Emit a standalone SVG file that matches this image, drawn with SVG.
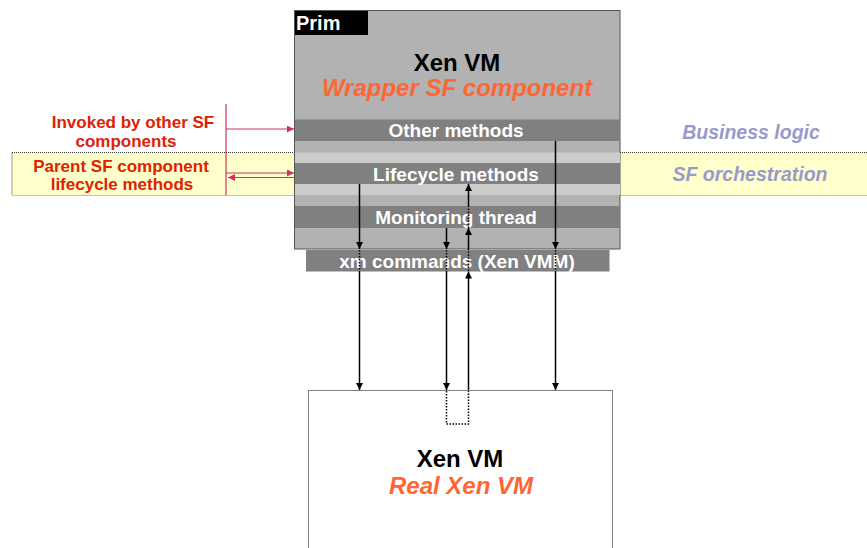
<svg xmlns="http://www.w3.org/2000/svg" width="867" height="548" viewBox="0 0 867 548">
<defs>
<style>
.t{font-family:"Liberation Sans",Arial,sans-serif;font-weight:bold;text-anchor:middle}
.bar{fill:#808080}
.bw{fill:#ffffff;font-size:19px}
.red{fill:#dd2200;font-size:17px}
.orange{fill:#ff6633;font-style:italic;font-size:24px}
.big{fill:#000;font-size:24px}
.lav{fill:#9999cc;font-style:italic;font-size:19.5px}
.k{stroke:#000;stroke-width:1.5;fill:none}
.kd{stroke:#000;stroke-width:1.5;fill:none;stroke-dasharray:1.5 1.5}
.p{stroke:#cc3366;stroke-width:1.2;fill:none}
</style>
<marker id="ak" viewBox="0 0 10 10" refX="10" refY="5" markerWidth="7" markerHeight="7" markerUnits="userSpaceOnUse" orient="auto"><path d="M0,0L10,5L0,10z" fill="#000"/></marker>
<marker id="ap" viewBox="0 0 10 10" refX="10" refY="5" markerWidth="7" markerHeight="7" markerUnits="userSpaceOnUse" orient="auto"><path d="M0,0L10,5L0,10z" fill="#cc3366"/></marker>
</defs>
<rect width="867" height="548" fill="#fff"/>
<g id="band">
<rect x="12" y="152.5" width="860" height="42.5" fill="#ffffcc"/>
<line x1="12" y1="152.5" x2="867" y2="152.5" stroke="#333" stroke-width="1" stroke-dasharray="1 1"/>
<line x1="12" y1="152.5" x2="12" y2="195" stroke="#333" stroke-width="1" stroke-dasharray="1 1"/>
<line x1="12" y1="195.5" x2="867" y2="195.5" stroke="#c0c0c0" stroke-width="1"/>
</g>
<g id="wrapper">
<rect x="294.5" y="10.5" width="325.5" height="238.5" fill="#b2b2b2" stroke="#555" stroke-width="1"/>
<rect x="295" y="152.5" width="325" height="42.5" fill="#cccccc"/>
<rect x="295" y="11" width="73" height="24" fill="#000"/>
<text x="296" y="30" class="t" style="text-anchor:start;fill:#fff;font-size:20px">Prim</text>
<text x="457" y="71" class="t big">Xen VM</text>
<text x="457" y="96" class="t orange">Wrapper SF component</text>
</g>
<g id="other-methods">
<rect x="295" y="119.5" width="325" height="21.5" class="bar"/>
<text x="456" y="137" class="t bw">Other methods</text>
</g>
<g id="lifecycle-methods">
<rect x="295" y="163" width="325" height="21" class="bar"/>
<text x="456" y="180.5" class="t bw">Lifecycle methods</text>
</g>
<g id="monitoring-thread">
<rect x="295" y="206" width="325" height="22" class="bar"/>
<text x="456" y="223.5" class="t bw">Monitoring thread</text>
</g>
<g id="xm-commands">
<rect x="306" y="250" width="303.5" height="21.5" class="bar"/>
<text x="457" y="267.5" class="t bw">xm commands (Xen VMM)</text>
</g>
<g id="real-vm">
<rect x="308.5" y="390.5" width="304" height="170" fill="#fff" stroke="#808080" stroke-width="1"/>
<text x="460" y="467" class="t big">Xen VM</text>
<text x="461" y="494" class="t orange">Real Xen VM</text>
</g>
<g id="labels">
<text x="133" y="128" class="t red">Invoked by other SF</text>
<text x="126" y="146.5" class="t red">components</text>
<text x="121" y="171.5" class="t red">Parent SF component</text>
<text x="122" y="190" class="t red">lifecycle methods</text>
<text x="751" y="139" class="t lav">Business logic</text>
<text x="750" y="181" class="t lav">SF orchestration</text>
</g>
<g id="connectors">
<line x1="226" y1="104" x2="226" y2="195" class="p"/>
<line x1="226" y1="129" x2="294" y2="129" class="p" marker-end="url(#ap)"/>
<line x1="226" y1="173" x2="294" y2="173" class="p" marker-end="url(#ap)"/>
<line x1="294" y1="177.5" x2="228" y2="177.5" class="p" marker-end="url(#ap)"/>
<line x1="359.5" y1="184" x2="359.5" y2="249" class="k" marker-end="url(#ak)"/>
<line x1="359.5" y1="250" x2="359.5" y2="272" class="kd"/>
<line x1="359.5" y1="272" x2="359.5" y2="390" class="k" marker-end="url(#ak)"/>
<line x1="446.5" y1="228" x2="446.5" y2="249" class="k" marker-end="url(#ak)"/>
<line x1="446.5" y1="250" x2="446.5" y2="272" class="kd"/>
<line x1="446.5" y1="272" x2="446.5" y2="390" class="k" marker-end="url(#ak)"/>
<line x1="468.5" y1="390" x2="468.5" y2="271.5" class="k" marker-end="url(#ak)"/>
<line x1="468.5" y1="271" x2="468.5" y2="250" class="kd"/>
<line x1="468.5" y1="250" x2="468.5" y2="228" class="k" marker-end="url(#ak)"/>
<line x1="468.5" y1="228" x2="468.5" y2="206" class="kd"/>
<line x1="468.5" y1="206" x2="468.5" y2="184" class="k" marker-end="url(#ak)"/>
<line x1="555.5" y1="141" x2="555.5" y2="249" class="k" marker-end="url(#ak)"/>
<line x1="555.5" y1="250" x2="555.5" y2="272" class="kd"/>
<line x1="555.5" y1="272" x2="555.5" y2="390" class="k" marker-end="url(#ak)"/>
<path d="M446.5,391 V424 H468.5 V391" stroke="#000" stroke-width="1.5" fill="none" stroke-dasharray="1.5 1.5"/>
</g>
</svg>
